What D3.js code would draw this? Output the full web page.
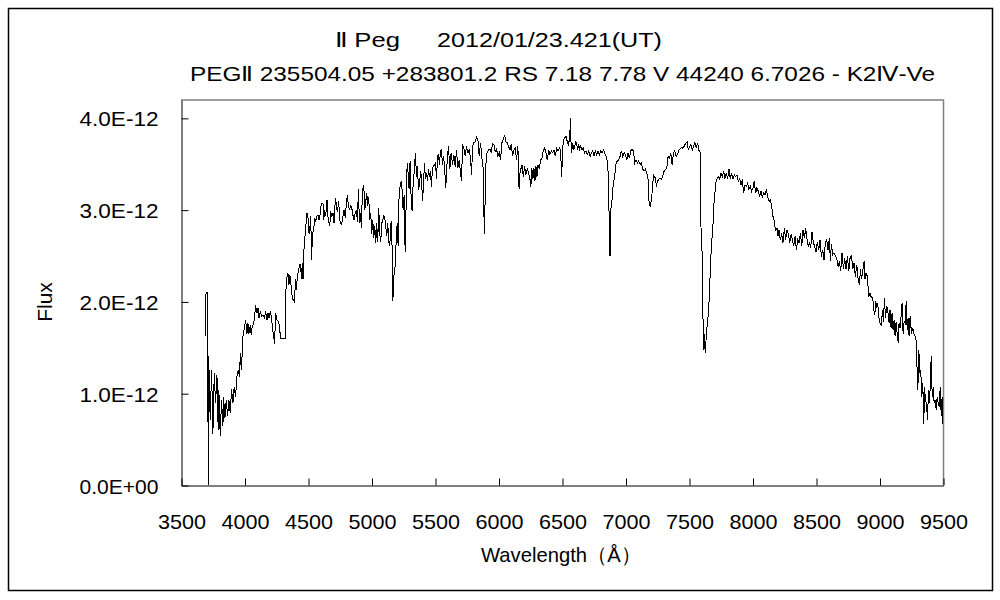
<!DOCTYPE html>
<html>
<head>
<meta charset="utf-8">
<script src="https://cdn.jsdelivr.net/npm/d3@7"></script>
<style>
body { margin: 0; background: #fff; }
text { font-family: "Liberation Sans", Arial, sans-serif; fill: #000; }
</style>
</head>
<body>
<script>

// titles and labels
var titleStar = "Ⅱ Peg",
	titleDate = "2012/01/23.421(UT)",
	titleInfo = "PEGⅡ 235504.05 +283801.2 RS 7.18 7.78 V 44240 6.7026 - K2Ⅳ-Ve",
	xTitle = "Wavelength（Å）",
	yTitle = "Flux";

var xTicks = [3500, 4000, 4500, 5000, 5500, 6000, 6500, 7000, 7500, 8000, 8500, 9000, 9500];
var yTicks = [0, 1, 2, 3, 4];
var yTickLabels = ["0.0E+00", "1.0E-12", "2.0E-12", "3.0E-12", "4.0E-12"];

// spectrum, wavelength in angstrom, flux in units of 1e-12
var wavelength = [
	3694, 3695, 3704, 3710, 3714, 3718, 3730, 3741, 3751, 3762,
	3772, 3783, 3793, 3798, 3809, 3819, 3830, 3835, 3846, 3856,
	3867, 3877, 3888, 3898, 3909, 3919, 3930, 3940, 3951, 3961,
	3967, 3975, 3982, 3988, 4001, 4009, 4019, 4027, 4035, 4045,
	4053, 4061, 4072, 4080, 4087, 4098, 4106, 4114, 4124, 4135,
	4145, 4158, 4166, 4177, 4185, 4193, 4203, 4211, 4219, 4229,
	4237, 4245, 4256, 4266, 4277, 4282, 4303, 4321, 4324, 4335,
	4342, 4350, 4356, 4363, 4371, 4382, 4392, 4403, 4408, 4416,
	4426, 4434, 4442, 4448, 4455, 4461, 4466, 4474, 4482, 4487,
	4498, 4508, 4513, 4521, 4529, 4534, 4545, 4553, 4561, 4571,
	4579, 4587, 4597, 4605, 4618,
	4624, 4631, 4639, 4650, 4658, 4671, 4679, 4687, 4697, 4705,
	4716, 4723, 4731, 4742, 4750, 4758, 4765, 4776, 4784, 4794,
	4802, 4810, 4818, 4829, 4836, 4847, 4855, 4863, 4871, 4881,
	4889, 4897, 4905, 4913, 4921, 4928, 4939, 4947, 4955, 4963,
	4970, 4978, 4986, 4994, 5002, 5010, 5018, 5026, 5034, 5041,
	5049, 5057, 5065, 5073, 5081, 5089, 5097, 5104, 5112, 5120,
	5128, 5136, 5144, 5152, 5160, 5165, 5170, 5178, 5186, 5194,
	5202, 5210, 5217, 5225, 5233, 5241, 5249, 5257, 5265, 5273,
	5281, 5288, 5296, 5304, 5312, 5320, 5328, 5336, 5346, 5354,
	5362, 5370, 5378, 5386, 5394, 5401, 5409, 5417, 5425, 5433,
	5441, 5449, 5457, 5464, 5472, 5480, 5488, 5496, 5504, 5512,
	5520, 5528, 5535, 5543, 5551, 5559, 5567, 5575,
	5585, 5596, 5606, 5617, 5627, 5638, 5648, 5659, 5669, 5680,
	5690, 5701, 5709, 5717, 5727, 5738, 5748, 5759, 5769, 5780,
	5788, 5796, 5806, 5817, 5827, 5838, 5848, 5859, 5869, 5880,
	5888, 5895, 5903, 5911, 5922, 5932, 5943, 5953, 5964, 5974,
	5985, 5995, 6006, 6016, 6027, 6037, 6048, 6058, 6069, 6079,
	6090, 6100, 6111, 6121, 6132, 6142, 6153, 6158, 6163, 6171,
	6179, 6187, 6195, 6206, 6216, 6227, 6237, 6248, 6255, 6263,
	6271, 6279, 6287, 6295, 6303, 6311, 6321, 6332, 6342, 6353,
	6363, 6374, 6384, 6395, 6405, 6416, 6426, 6437, 6447, 6458,
	6468, 6479, 6489, 6497,
	6505, 6510, 6521, 6531, 6542, 6552, 6563, 6565, 6571, 6576,
	6584, 6592, 6600, 6608, 6615, 6623, 6631, 6639, 6647, 6657,
	6668, 6678, 6689, 6699, 6710, 6721, 6731, 6742, 6752, 6763,
	6773, 6784, 6794, 6805, 6815, 6826, 6836, 6847, 6857, 6865,
	6870, 6873, 6878, 6883, 6891, 6899, 6910, 6918, 6926, 6936,
	6947, 6957, 6968, 6978, 6989, 6999, 7010, 7020, 7031, 7041,
	7052, 7062, 7073, 7083, 7094, 7104, 7115, 7125, 7136, 7146,
	7157, 7167, 7178, 7183, 7188, 7196, 7204, 7212, 7220, 7228,
	7236, 7244, 7251, 7262, 7272, 7283, 7293, 7304, 7314, 7325,
	7335, 7346, 7356, 7367, 7378, 7388, 7399, 7409, 7420, 7430,
	7441, 7451, 7462,
	7468, 7478, 7486, 7494, 7505, 7515, 7526, 7536, 7547, 7557,
	7568, 7576, 7583, 7589, 7594, 7602, 7607, 7612, 7618, 7623,
	7628, 7633, 7639, 7646, 7657, 7668, 7678, 7686, 7694, 7702,
	7710, 7720, 7731, 7741, 7752, 7762, 7773, 7783, 7794, 7804,
	7815, 7825, 7836, 7846, 7857, 7867, 7878, 7888, 7899, 7909,
	7920, 7930, 7941, 7951, 7962, 7972, 7983, 7993, 8004, 8014,
	8025, 8035, 8046, 8056, 8067, 8077, 8088, 8099, 8109, 8120,
	8130, 8141, 8151, 8159, 8167, 8175, 8183, 8193, 8201, 8209,
	8219, 8230, 8240, 8251, 8261, 8272, 8282, 8293, 8304, 8314,
	8325, 8335, 8346, 8356, 8367, 8377, 8388, 8398, 8409, 8419,
	8430, 8440, 8451,
	8458, 8469, 8479, 8490, 8500, 8511, 8521, 8532, 8542, 8553,
	8563, 8574, 8584, 8595, 8605, 8613, 8621, 8632, 8642, 8653,
	8663, 8674, 8684, 8695, 8705, 8716, 8726, 8737, 8747, 8758,
	8768, 8779, 8789, 8800, 8810, 8821, 8831, 8842, 8850, 8858,
	8868, 8879, 8886, 8894, 8905, 8915, 8926, 8936, 8947, 8955,
	8963, 8971, 8978, 8986, 8994, 9005, 9015, 9023, 9031, 9039,
	9047, 9057, 9068, 9076, 9083, 9091, 9099, 9107, 9115, 9123,
	9131, 9139, 9147, 9154, 9162, 9170, 9178, 9186, 9194, 9202,
	9210, 9218, 9225, 9233, 9241, 9252, 9262, 9273, 9283, 9291,
	9296, 9302, 9310, 9317, 9325, 9333, 9341, 9349, 9354, 9362,
	9370, 9378, 9386, 9394, 9402, 9407, 9415, 9423, 9430, 9438,
	9446, 9454, 9462, 9470, 9478, 9486, 9493, 9499, 9500
];

var flux = [
	1.62, 2.07, 2.10, 2.08, 0.00, 1.40, 0.71, 1.25, 0.56, 1.22,
	0.89, 1.20, 0.60, 1.04, 0.53, 0.93, 0.64, 0.96, 0.73, 0.93,
	0.75, 0.93, 0.78, 1.05, 0.89, 1.07, 0.96, 1.18, 1.25, 1.18,
	1.44, 1.25, 1.44, 1.62, 1.73, 1.80, 1.65, 1.76, 1.65, 1.74,
	1.64, 1.73, 1.76, 1.84, 1.96, 1.87, 1.93, 1.82, 1.89, 1.84,
	1.85, 1.82, 1.89, 1.80, 1.87, 1.82, 1.89, 1.84, 1.73, 1.62,
	1.54, 1.87, 1.80, 1.78, 1.73, 1.60, 1.60, 1.60, 2.09, 2.27,
	2.31, 2.18, 2.29, 2.24, 2.09, 2.02, 2.00, 2.24, 2.13, 2.27,
	2.34, 2.40, 2.40, 2.25, 2.42, 2.24, 2.51, 2.71, 2.73, 2.96,
	2.96, 2.74, 2.76, 2.93, 2.45, 2.73, 2.78, 2.91, 2.87, 2.93,
	2.94, 2.89, 2.96, 3.07, 3.07,
	2.89, 3.00, 2.93, 3.11, 2.91, 2.82, 2.98, 2.93, 2.96, 2.85,
	3.13, 3.05, 2.98, 3.09, 2.89, 2.85, 2.84, 2.93, 3.00, 2.91,
	3.07, 3.16, 3.04, 3.00, 3.05, 3.00, 2.93, 2.89, 2.96, 3.00,
	2.87, 3.22, 2.85, 2.96, 2.80, 3.20, 3.27, 3.00, 3.09, 3.18,
	3.04, 3.14, 2.89, 2.96, 2.74, 2.89, 2.69, 2.82, 2.64, 2.85,
	2.65, 3.02, 2.74, 2.65, 2.85, 2.89, 2.93, 2.91, 2.82, 2.71,
	2.85, 2.65, 2.60, 2.85, 2.87, 2.00, 2.05, 2.31, 2.38, 2.65,
	2.85, 2.60, 3.14, 3.25, 3.31, 3.22, 3.00, 3.16, 2.54, 3.07,
	3.51, 3.40, 3.22, 3.53, 3.13, 2.98, 3.29, 3.40, 3.62, 3.36,
	3.47, 3.22, 3.27, 3.42, 3.36, 3.09, 3.25, 3.51, 3.33, 3.40,
	3.31, 3.44, 3.36, 3.42, 3.25, 3.45, 3.47, 3.49, 3.51, 3.33,
	3.58, 3.60, 3.49, 3.64, 3.65, 3.49, 3.58, 3.47,
	3.24, 3.54, 3.69, 3.44, 3.62, 3.49, 3.60, 3.47, 3.65, 3.45,
	3.54, 3.40, 3.31, 3.71, 3.67, 3.58, 3.69, 3.62, 3.65, 3.56,
	3.38, 3.69, 3.73, 3.74, 3.79, 3.76, 3.58, 3.73, 3.56, 3.44,
	2.74, 3.11, 3.58, 3.62, 3.65, 3.66, 3.62, 3.72, 3.71, 3.63,
	3.66, 3.58, 3.62, 3.54, 3.73, 3.76, 3.81, 3.74, 3.73, 3.69,
	3.65, 3.71, 3.58, 3.65, 3.67, 3.54, 3.69, 3.33, 3.22, 3.44,
	3.45, 3.49, 3.36, 3.47, 3.38, 3.45, 3.40, 3.33, 3.25, 3.45,
	3.33, 3.45, 3.31, 3.47, 3.36, 3.49, 3.44, 3.54, 3.56, 3.65,
	3.67, 3.62, 3.54, 3.65, 3.60, 3.64, 3.62, 3.65, 3.58, 3.67,
	3.64, 3.67, 3.65, 3.36,
	3.62, 3.76, 3.78, 3.80, 3.74, 3.69, 3.87, 4.00, 3.73, 3.62,
	3.73, 3.65, 3.69, 3.74, 3.73, 3.65, 3.71, 3.66, 3.69, 3.65,
	3.67, 3.62, 3.64, 3.60, 3.64, 3.58, 3.62, 3.64, 3.58, 3.64,
	3.60, 3.64, 3.60, 3.64, 3.62, 3.65, 3.62, 3.58, 3.53, 3.36,
	3.00, 2.74, 2.49, 3.00, 3.04, 3.22, 3.33, 3.40, 3.51, 3.53,
	3.54, 3.58, 3.64, 3.58, 3.62, 3.60, 3.54, 3.62, 3.56, 3.64,
	3.66, 3.64, 3.51, 3.54, 3.51, 3.53, 3.49, 3.51, 3.44, 3.42,
	3.44, 3.40, 3.33, 3.11, 3.07, 3.03, 3.11, 3.22, 3.38, 3.36,
	3.34, 3.25, 3.31, 3.33, 3.34, 3.33, 3.36, 3.42, 3.44, 3.45,
	3.58, 3.56, 3.62, 3.49, 3.62, 3.64, 3.58, 3.60, 3.65, 3.66,
	3.68, 3.67, 3.69,
	3.71, 3.73, 3.74, 3.65, 3.69, 3.71, 3.65, 3.69, 3.73, 3.67,
	3.73, 3.65, 3.64, 3.62, 2.82, 2.60, 2.05, 1.69, 1.47, 1.65,
	1.44, 1.55, 1.69, 1.76, 1.98, 2.34, 2.67, 2.71, 3.04, 3.14,
	3.29, 3.33, 3.36, 3.33, 3.40, 3.36, 3.42, 3.34, 3.40, 3.33,
	3.44, 3.34, 3.40, 3.33, 3.38, 3.36, 3.38, 3.31, 3.34, 3.27,
	3.33, 3.18, 3.27, 3.25, 3.29, 3.22, 3.25, 3.20, 3.24, 3.31,
	3.18, 3.24, 3.20, 3.14, 3.20, 3.13, 3.18, 3.16, 3.22, 3.14,
	3.09, 3.11, 3.04, 2.93, 2.91, 2.82, 2.78, 2.80, 2.71, 2.78,
	2.67, 2.74, 2.64, 2.80, 2.67, 2.78, 2.74, 2.64, 2.73, 2.67,
	2.60, 2.71, 2.56, 2.67, 2.64, 2.74, 2.60, 2.78, 2.69, 2.80,
	2.67, 2.60, 2.64,
	2.58, 2.76, 2.64, 2.60, 2.54, 2.65, 2.56, 2.67, 2.49, 2.56,
	2.45, 2.65, 2.67, 2.56, 2.69, 2.44, 2.62, 2.51, 2.53, 2.49,
	2.47, 2.38, 2.44, 2.33, 2.53, 2.35, 2.47, 2.35, 2.49, 2.33,
	2.47, 2.51, 2.35, 2.42, 2.27, 2.40, 2.25, 2.18, 2.35, 2.24,
	2.33, 2.44, 2.24, 2.31, 2.27, 2.05, 2.09, 2.04, 2.04, 1.91,
	1.85, 2.00, 1.93, 1.98, 1.84, 1.76, 1.74, 1.91, 1.78, 2.04,
	1.82, 1.95, 1.87, 1.76, 1.91, 1.71, 1.87, 1.69, 1.80, 1.62,
	1.78, 1.65, 1.55, 1.76, 1.71, 1.84, 1.98, 1.64, 1.78, 1.76,
	2.00, 1.69, 1.82, 1.62, 1.84, 1.65, 1.71, 1.64, 1.62, 1.55,
	1.25, 1.04, 1.47, 1.22, 1.25, 0.96, 1.11, 0.67, 1.07, 0.93,
	0.89, 0.71, 1.04, 0.89, 1.18, 1.40, 0.96, 1.07, 0.89, 0.93,
	0.82, 0.96, 0.89, 0.85, 1.07, 0.75, 0.96, 0.67, 0.85
];

var width = 1000,
	height = 600;

var plot = { left: 181, right: 943, top: 99.5, bottom: 485 };

var svg = d3.select("body").append("svg")
	.attr("width", width)
	.attr("height", height)
	.style("display", "block");

// outer frame
svg.append("rect")
	.attr("x", 8.5)
	.attr("y", 8.5)
	.attr("width", 984)
	.attr("height", 582)
	.attr("fill", "none")
	.attr("stroke", "#000")
	.attr("stroke-width", 1.5);

var x = d3.scaleLinear()
	.domain([3500, 9500])
	.range([plot.left, plot.right]);

var y = d3.scaleLinear()
	.domain([0, 4.2])
	.range([plot.bottom, plot.top]);

// grey top and right edge of the plot area
svg.append("path")
	.attr("d", "M" + (plot.left) + "," + (plot.top + 0.5) + "H" + (plot.right + 0.5) + "V" + plot.bottom)
	.attr("fill", "none")
	.attr("stroke", "#808080")
	.attr("stroke-width", 1.5);

var xAxis = d3.axisBottom(x)
	.tickValues(xTicks)
	.tickSize(-7)
	.tickSizeOuter(0)
	.tickFormat(d3.format("d"));

var gx = svg.append("g")
	.attr("transform", "translate(0.5," + (plot.bottom + 0.5) + ")")
	.call(xAxis);
gx.selectAll("text")
	.attr("y", 43)
	.attr("dy", null)
	.attr("textLength", 48)
	.attr("lengthAdjust", "spacingAndGlyphs")
	.style("font-size", "21px");

var yAxis = d3.axisLeft(y)
	.tickValues(yTicks)
	.tickSize(-7)
	.tickSizeOuter(0)
	.tickFormat(function(d, i) { return yTickLabels[i]; });

var gy = svg.append("g")
	.attr("transform", "translate(" + (plot.left + 0.5) + ",0.5)")
	.call(yAxis);
gy.selectAll("text")
	.attr("x", -23)
	.attr("dy", "0.36em")
	.attr("textLength", 79)
	.attr("lengthAdjust", "spacingAndGlyphs")
	.style("font-size", "21px");

svg.selectAll(".domain, .tick line")
	.attr("stroke", "#000")
	.attr("stroke-width", 1);

// the spectrum
var line = d3.line()
	.x(function(d) { return x(d); })
	.y(function(d, i) { return y(flux[i]); });

svg.append("path")
	.datum(wavelength)
	.attr("d", line)
	.attr("fill", "none")
	.attr("stroke", "#000")
	.attr("stroke-width", 1)
	.style("shape-rendering", "crispEdges");

// titles
svg.append("text")
	.attr("x", 335)
	.attr("y", 47)
	.attr("textLength", 65)
	.attr("lengthAdjust", "spacingAndGlyphs")
	.style("font-size", "21px")
	.text(titleStar);

svg.append("text")
	.attr("x", 437)
	.attr("y", 47)
	.attr("textLength", 225)
	.attr("lengthAdjust", "spacingAndGlyphs")
	.style("font-size", "21px")
	.text(titleDate);

svg.append("text")
	.attr("x", 190)
	.attr("y", 81)
	.attr("textLength", 745)
	.attr("lengthAdjust", "spacingAndGlyphs")
	.style("font-size", "21px")
	.text(titleInfo);

svg.append("text")
	.attr("x", 481)
	.attr("y", 562)
	.attr("textLength", 160)
	.attr("lengthAdjust", "spacingAndGlyphs")
	.style("font-size", "21px")
	.text(xTitle);

svg.append("text")
	.attr("transform", "translate(52,302) rotate(-90)")
	.attr("text-anchor", "middle")
	.style("font-size", "21px")
	.text(yTitle);

</script>
</body>
</html>
